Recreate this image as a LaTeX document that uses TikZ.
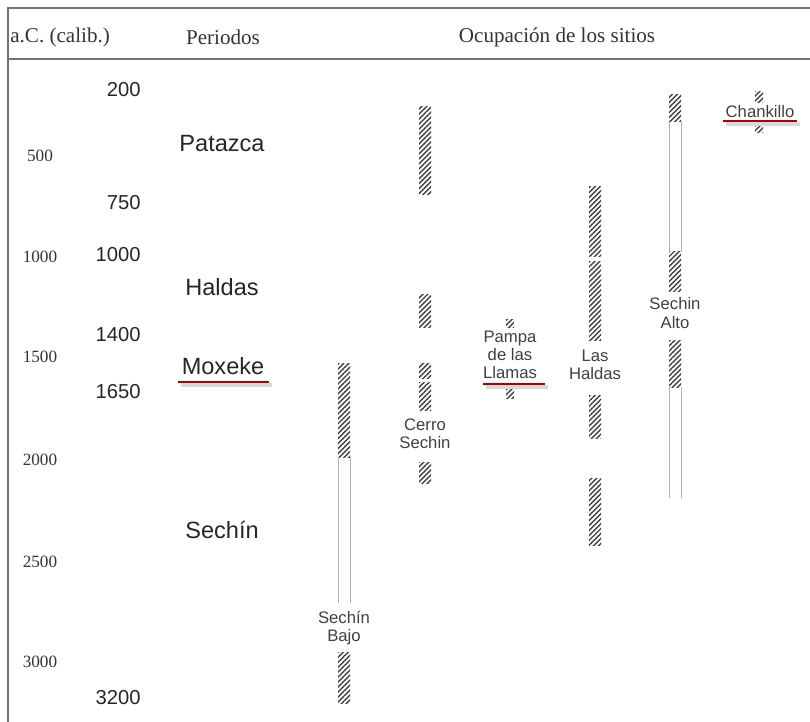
\documentclass[tikz,border=0pt]{standalone}
\usepackage{fontspec}
\setmainfont{Liberation Serif}
\setsansfont{Liberation Sans}
\usetikzlibrary{patterns.meta}
\begin{document}
\begin{tikzpicture}[x=0.02cm,y=-0.02cm,
	head/.style={font=\fontsize{12}{13}\selectfont,text=black!80,inner sep=0pt},
	cal/.style={font=\fontsize{9.8}{11}\selectfont,text=black!80,inner sep=0pt},
	yr/.style={font=\sffamily\fontsize{11.5}{13}\selectfont,text=black!85,inner sep=0pt,anchor=east},
	per/.style={font=\sffamily\fontsize{13.4}{15}\selectfont,text=black!85,inner sep=0pt},
	site/.style={font=\sffamily\fontsize{9.5}{10.3}\selectfont,text=black!75,align=center,fill=white,inner sep=1pt},
	hatch/.style={pattern={Lines[angle=45,distance=2pt,line width=0.8pt]},pattern color=black!75},
	gap/.style={draw=black!30,line width=0.5pt},
	mark red/.style={draw=red!70!black,line width=1.6pt},
	mark shade/.style={draw=black!15,line width=2.4pt}]
	\useasboundingbox (0,0) rectangle (810,722);
	% frame
	\draw[black!55,line width=1.2pt] (810,8) -- (8,8) -- (8,722);
	\draw[black!55,line width=1.2pt] (8,59) -- (810,59);
	\node[head,anchor=west] (hcal) at (10,37) {a.C. (calib.)};
	\node[head] (hper) at (223,37) {Periodos};
	\node[head] (hocc) at (557,37) {Ocupación de los sitios};
	% scales
	\foreach \v/\y in {500/156,1000/257,1500/357,2000/460,2500/562,3000/662}
		\node[cal] (c\v) at (40,\y) {\v};
	\foreach \v/\y in {200/90,750/203,1000/255,1400/335,1650/392,3200/698}
		\node[yr] (y\v) at (141,\y) {\v};
	% periods
	\node[per] (patazca) at (222,144) {Patazca};
	\node[per] (haldas) at (222,287) {Haldas};
	\node[per] (moxeke) at (223,366) {Moxeke};
	\node[per] (sechin) at (222,530) {Sechín};
	% occupation
	\foreach \x/\w/\a/\b in {344/6/363/457, 344/6/652/703, 425/6/107/195, 425/6/295/328,
		425/6/363/378, 425/6/382/410, 425/6/462/483, 510/4/320/328, 510/4/388/398,
		595/6/187/257, 595/6/262/340, 595/6/395/438, 595/6/478/545,
		675/6/95/122, 675/6/252/292, 675/6/340/387, 759/4/92/103, 759/4/123/133}
		\fill[hatch] ({\x-\w},\a) rectangle ({\x+\w},\b);
	\foreach \x/\a/\b in {344/457/603, 675/122/252, 675/387/498}
		\draw[gap] ({\x-6},\a) -- ({\x-6},\b) ({\x+6},\a) -- ({\x+6},\b);
	\node[site] (bajo) at (344,628) {Sechín\\Bajo};
	\node[site] (cerro) at (425,434) {Cerro\\Sechin};
	\node[site] (pampa) at (510,355) {Pampa\\de las\\Llamas};
	\node[site] (lashaldas) at (595,365) {Las\\Haldas};
	\node[site] (alto) at (675,313) {Sechin\\Alto};
	\node[site,fill=none] (chankillo) at (760,112) {Chankillo};
	% underlines
	\foreach \a/\b/\y in {178/269/382, 483/545/384, 723/797/121}{
		\draw[mark shade] ({\a+3},\y+3) -- ({\b+3},\y+3);
		\draw[mark red] (\a,\y) -- (\b,\y);
	}
\end{tikzpicture}
\end{document}
